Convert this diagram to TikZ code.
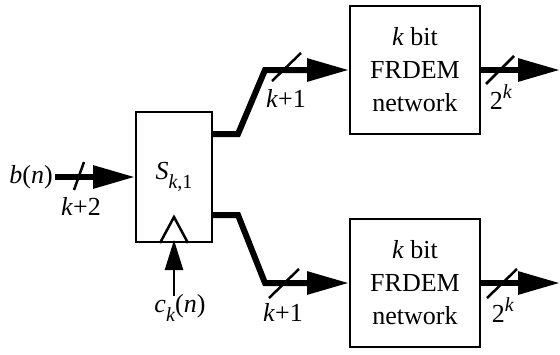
\documentclass[tikz,border=0pt]{standalone}
\usepackage{fontspec}
\setmainfont{Liberation Serif}
\usetikzlibrary{arrows.meta}
\newcommand{\lowr}[1]{\raisebox{-9pt}{\fontsize{20}{20}\selectfont #1}}
\newcommand{\highr}[1]{\raisebox{11pt}{\fontsize{20}{20}\selectfont #1}}
\tikzset{
  block/.style={draw,line width=2pt,inner sep=0pt},
  bus/.style={line width=6pt,-{Triangle[length=42pt,width=22pt]}},
  clk/.style={line width=2.5pt,-{Triangle[length=30pt,width=18pt]}},
  tick/.style={line width=2.5pt},
  lbl/.style={inner sep=0pt}
}

\begin{document}
\begin{tikzpicture}[x=1pt,y=-1pt,font=\fontsize{26}{33}\selectfont]
\useasboundingbox (0,0) rectangle (560,354);

\node[block,minimum width=76pt,minimum height=130pt] (sreg) at (174,177) {\textit{S}\lowr{\textit{k},1}};
\node[block,minimum width=130pt,minimum height=128pt,align=center] (frdemA) at (415,70) {\textit{k} bit\\FRDEM\\network};
\node[block,minimum width=130pt,minimum height=128pt,align=center] (frdemB) at (415,283) {\textit{k} bit\\FRDEM\\network};

\node[lbl,anchor=east,inner sep=2pt] (bn) at (55,177) {\textit{b}(\textit{n})};
\draw[bus] (bn.east) -- (sreg.west);
\draw[tick] (74,190) -- (84,162);
\node[lbl] (kb) at (81,206) {\textit{k}+2};

\draw[line width=2.5pt] (sreg.south) ++(-14,0) -- ++(14,-26) -- ++(14,26);
\node[lbl] (ckn) at (180,308) {\textit{c}\lowr{\textit{k}}(\textit{n})};
\draw[clk,shorten >=-3pt] (sreg.south |- 0,296) -- (sreg.south);

\coordinate (bendA) at (238,134);
\coordinate (kneeA) at (265,70);
\draw[bus] (sreg.east |- bendA) -- (bendA) -- (kneeA) -- (frdemA.west);
\draw[tick] (272,81) -- (301,53);
\node[lbl] (ka) at (286,98) {\textit{k}+1};

\coordinate (bendB) at (238,215);
\coordinate (kneeB) at (265,283);
\draw[bus] (sreg.east |- bendB) -- (bendB) -- (kneeB) -- (frdemB.west);
\draw[tick] (269,298) -- (299,269);
\node[lbl] (kc) at (283,312) {\textit{k}+1};

\coordinate (outA) at (560,70);
\draw[bus] (frdemA.east) -- (outA);
\draw[tick] (486,84) -- (514,56);
\node[lbl] (na) at (501,97) {2\highr{\textit{k}}};

\coordinate (outB) at (560,283);
\draw[bus] (frdemB.east) -- (outB);
\draw[tick] (487,298) -- (517,269);
\node[lbl] (nb) at (503,310) {2\highr{\textit{k}}};
\end{tikzpicture}
\end{document}
